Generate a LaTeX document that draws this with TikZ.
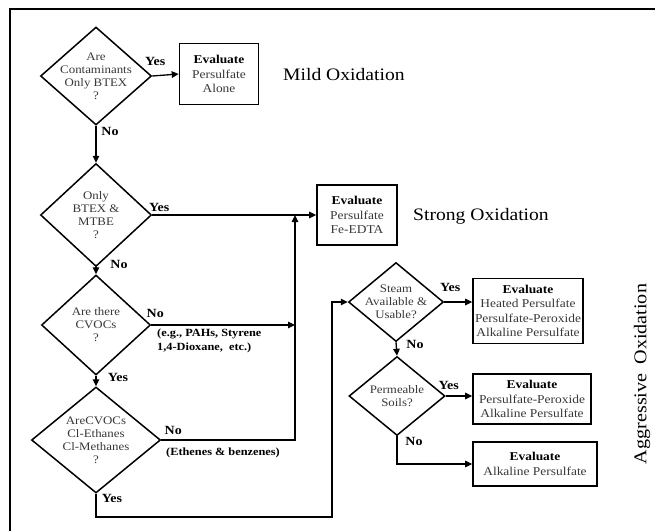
\documentclass[tikz,border=0pt]{standalone}
\usepackage{fontspec}
\setmainfont[FakeStretch=1.12]{Liberation Serif}
\usepackage{xcolor}
\usepackage{tikz}
\usetikzlibrary{positioning,arrows.meta,calc,shapes.geometric}
\definecolor{qtext}{HTML}{383838}

\begin{document}
\begin{tikzpicture}[
  x=1pt, y=-1pt,
  font=\fontsize{11.5}{13}\selectfont,
  qdiam/.style={diamond, draw, line width=1.5pt, align=center, inner sep=-18pt, text=qtext},
  evalbox/.style={draw, line width=1.6pt, align=center, inner sep=0pt, text=qtext,
                  font=\fontsize{12}{14.5}\selectfont},
  phase/.style={font=\fontsize{17.5}{20}\selectfont, anchor=west, inner sep=0pt},
  arr/.style={-{Triangle[length=7pt, width=6.5pt]}, line width=1.3pt},
  lab/.style={font=\bfseries\fontsize{12.5}{13}\selectfont, inner sep=0pt},
  note/.style={lab, align=left, anchor=west, font=\bfseries\fontsize{11}{14}\selectfont}
]
\useasboundingbox (0,0) rectangle (655,531);
% ----- frame (top and left edges only) -----
\draw[line width=1.4pt] (10,531) |- (655,9);
% ----- decision column -----
\node[qdiam, minimum width=111pt, minimum height=98pt] (q1) at (96,76)
  {Are\\Contaminants\\Only BTEX\\?};
\node[qdiam, minimum width=111pt, minimum height=103pt] (q2) at (96,215)
  {Only\\BTEX \&\\MTBE\\?};
\node[qdiam, minimum width=109pt, minimum height=100pt] (q3) at (96,325)
  {Are there\\CVOCs\\?};
\node[qdiam, minimum width=129pt, minimum height=106pt] (q4) at (96,440)
  {AreCVOCs\\Cl-Ethanes\\Cl-Methanes\\?};
% ----- mild and strong oxidation -----
\node[evalbox, minimum width=79pt, minimum height=61pt] (alone) at (219,74)
  {\textcolor{black}{\textbf{Evaluate}}\\Persulfate\\Alone};
\node[phase] (mild) at (283,75) {Mild Oxidation};
\node[evalbox, minimum width=80pt, minimum height=60pt] (fedta) at (357,215)
  {\textcolor{black}{\textbf{Evaluate}}\\Persulfate\\Fe-EDTA};
\node[phase] (strong) at (413,216) {Strong Oxidation};
\coordinate (bus) at (295,215);
% ----- aggressive oxidation -----
\node[qdiam, minimum width=95pt, minimum height=79pt] (q5) at (396,302)
  {Steam\\Available \&\\Usable?};
\node[qdiam, minimum width=96pt, minimum height=79pt] (q6) at (397,396)
  {Permeable\\Soils?};
\node[evalbox, minimum width=110pt, minimum height=65pt] (heated) at (528,311)
  {\textcolor{black}{\textbf{Evaluate}}\\Heated Persulfate\\Persulfate-Peroxide\\Alkaline Persulfate};
\node[evalbox, minimum width=118pt, minimum height=50pt] (perox) at (532,399)
  {\textcolor{black}{\textbf{Evaluate}}\\Persulfate-Peroxide\\Alkaline Persulfate};
\node[evalbox, minimum width=124pt, minimum height=44pt] (alkal) at (535,464)
  {\textcolor{black}{\textbf{Evaluate}}\\Alkaline Persulfate};
\node[phase, rotate=90, anchor=center, font=\fontsize{18}{20}\selectfont] (aggr) at (642,374)
  {Aggressive\hspace{9pt}Oxidation};
\coordinate (turn) at (332,517);
% ----- yes branches -----
\draw[arr] (q1.east) -- node[lab, pos=0, xshift=3pt, yshift=15pt]{Yes} (alone.west);
\draw[arr] (q2.east) -- node[lab, pos=0, xshift=7pt, yshift=8pt]{Yes} (fedta.west);
\draw[arr] (q5.east) -- node[lab, pos=0, xshift=6pt, yshift=15pt]{Yes} (q5.east -| heated.west);
\draw[arr] (q6.east) -- node[lab, pos=0, xshift=3pt, yshift=11pt]{Yes} (q6.east -| perox.west);
\draw[arr] (q3.south) -- node[lab, pos=0, xshift=22pt, yshift=-2pt]{Yes} (q4.north);
\draw[arr] (q4.south) |- node[lab, pos=0, xshift=16pt, yshift=-5pt]{Yes} (turn) |- (q5.west);
% ----- no branches -----
\draw[arr] (q1.south) -- node[lab, pos=0, xshift=14pt, yshift=-6pt]{No} (q2.north);
\draw[arr] (q2.south) -- node[lab, pos=0, xshift=23pt, yshift=3pt]{No} (q3.north);
\draw[arr] (q3.east) -- node[lab, pos=0, xshift=4pt, yshift=12pt]{No} (q3.east -| bus);
\draw[arr] (q4.east) -| node[lab, pos=0, xshift=12pt, yshift=10pt]{No} (bus);
\draw[arr] (q5.south) -- node[lab, pos=0, xshift=19pt, yshift=-2pt]{No} (q6.north);
\draw[arr] (q6.south) |- node[lab, pos=0, xshift=17pt, yshift=-5pt]{No} (alkal.west);
% ----- side notes -----
\node[note] (egnote) at (157,341) {(e.g., PAHs, Styrene\\1,4-Dioxane,~~etc.)};
\node[note] (ethnote) at (166,453) {(Ethenes \& benzenes)};
\end{tikzpicture}
\end{document}
